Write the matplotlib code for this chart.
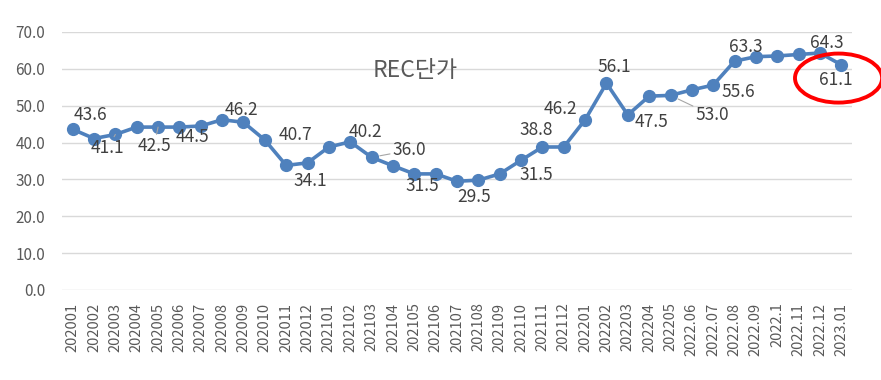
import matplotlib
matplotlib.use('Agg')
import matplotlib.pyplot as plt
from matplotlib.patches import Ellipse

plt.rcParams['font.family'] = ['Noto Sans CJK KR', 'DejaVu Sans']

# months on the category axis
months = ['202001', '202002', '202003', '202004', '202005', '202006', '202007',
          '202008', '202009', '202010', '202011', '202012',
          '202101', '202102', '202103', '202104', '202105', '202106', '202107',
          '202108', '202109', '202110', '202111', '202112',
          '202201', '202202', '202203', '202204', '202205', '2022.06', '2022.07',
          '2022.08', '2022.09', '2022.1', '2022.11', '2022.12', '2023.01']

# REC price per month
rec_price = [43.6, 41.1, 42.2, 44.2, 44.2, 44.2, 44.5, 46.2, 45.5, 40.7, 33.8, 34.5,
             38.8, 40.2, 36.0, 33.7, 31.5, 31.5, 29.5, 29.8, 31.5, 35.2, 38.8, 38.8,
             46.2, 56.1, 47.5, 52.6, 52.8, 54.3, 55.6, 62.1, 63.3, 63.5, 63.9, 64.3, 61.1]

# data labels that are shown: point index and text
label_idx = [0, 2, 4, 6, 7, 9, 11, 13, 14, 16, 18, 21, 22, 24, 25, 26, 28, 30, 32, 35, 36]
label_txt = ['43.6', '41.1', '42.5', '44.5', '46.2', '40.7', '34.1', '40.2', '36.0',
             '31.5', '29.5', '31.5', '38.8', '46.2', '56.1', '47.5', '53.0', '55.6',
             '63.3', '64.3', '61.1']
# label offsets (pixels) and whether Excel drew a leader line
label_off = [(18, 14), (-8, -14), (-4, -19), (-8, -11), (19, 10), (31, 5), (3, -18),
             (15, 10), (38, 7), (8, -12), (17, -16), (15, -15), (-6, 17), (-25, 11),
             (8, 16), (24, -7), (42, -20), (25, -7), (-10, 10), (7, 10), (-6, -15)]
leader = [2, 4, 14, 28]

fig = plt.figure(figsize=(8.81, 3.8), dpi=100)
ax = fig.add_axes([62/881, 90/380, 790/881, 258/380])

x = list(range(len(months)))
ax.plot(x, rec_price, color='#4f81bd', lw=2.6, marker='o', markersize=8.5, zorder=3)

for i, t, (dx, dy) in zip(label_idx, label_txt, label_off):
    kw = {}
    if i in leader:
        kw['arrowprops'] = dict(arrowstyle='-', color='#a6a6a6', lw=0.8,
                                shrinkA=0, shrinkB=6)
    ax.annotate(t, xy=(i, rec_price[i]), xytext=(dx, dy), textcoords='offset pixels',
                ha='center', va='center', fontsize=12.5, color='#404040', zorder=4, **kw)

ax.text(0.447, 0.85, 'REC단가', transform=ax.transAxes, ha='center', va='center',
        fontsize=16.5, color='#595959')

# red circle round the last value
ax.add_patch(Ellipse((35.87, 57.5), 4.08, 13.3, fill=False, edgecolor='#ff0000',
                     lw=2.8, clip_on=False, zorder=5))

ax.set_xlim(-0.5, len(months) - 0.5)
ax.set_ylim(0, 70)
ax.set_yticks(range(0, 71, 10))
ax.set_yticklabels([f'{v:.1f}' for v in range(0, 71, 10)])
ax.set_xticks(x)
ax.set_xticklabels(months, rotation=90)
ax.tick_params(axis='y', length=0, pad=12, labelsize=11, labelcolor='#595959')
ax.tick_params(axis='x', length=0, pad=9, labelsize=10.5, labelcolor='#595959')
ax.grid(axis='y', color='#d9d9d9', lw=1)
ax.set_axisbelow(True)
for s in ax.spines.values():
    s.set_visible(False)

fig.savefig('out.png', dpi=100)
